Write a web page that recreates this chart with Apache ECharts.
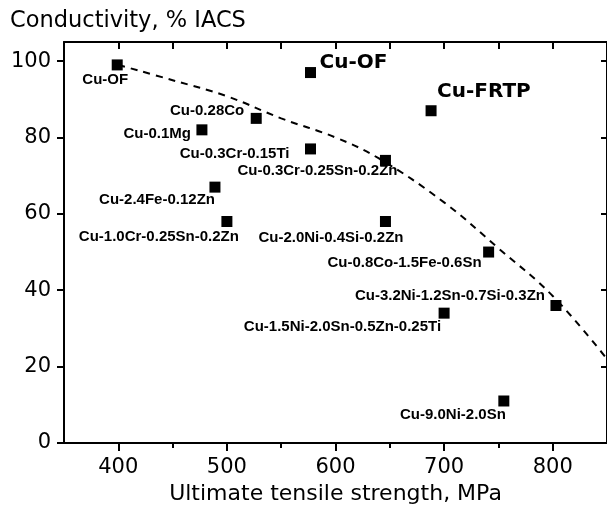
<!DOCTYPE html>
<html><head><meta charset="utf-8">
<script src="https://cdn.jsdelivr.net/npm/echarts@6/dist/echarts.min.js"></script>
<style>html,body{margin:0;padding:0;background:#fff}#c{width:607px;height:510px}</style>
</head><body><div id="c"></div>
<script>
// ---- data ----
const alloys = ['Cu-OF', 'Cu-OF', 'Cu-FRTP', 'Cu-0.28Co', 'Cu-0.1Mg', 'Cu-0.3Cr-0.15Ti',
  'Cu-2.4Fe-0.12Zn', 'Cu-1.0Cr-0.25Sn-0.2Zn', 'Cu-0.3Cr-0.25Sn-0.2Zn', 'Cu-2.0Ni-0.4Si-0.2Zn',
  'Cu-0.8Co-1.5Fe-0.6Sn', 'Cu-3.2Ni-1.2Sn-0.7Si-0.3Zn', 'Cu-1.5Ni-2.0Sn-0.5Zn-0.25Ti', 'Cu-9.0Ni-2.0Sn'];
const strength =     [399, 577, 688, 527, 477, 577, 489, 500, 646, 646, 741, 803, 700, 755];
const conductivity = [ 99,  97,  87,  85,  82,  77,  67,  58,  74,  58,  50,  36,  34,  11];
const trendStrength =     [400, 450, 500,  550, 600, 640,  700, 750,  800, 850];
const trendConductivity = [ 99,  95, 90.8, 85,  80,  74.5, 63,  51,  38.5, 22];
const xTickLabels = [400, 500, 600, 700, 800];
const xMinorTicks = [450, 550, 650, 750];
const xTopTicks = [400, 450, 500, 550, 600, 650, 700, 750, 800];
const yTickLabels = [0, 20, 40, 60, 80, 100];
const yRightTicks = [20, 40, 60, 80, 100];

// ---- label layout (styling, separate from data) ----
const labelLayout = [
  {align:'center', off:[-12, 15]},
  {align:'left', off:[9, -10], big:true},
  {align:'left', off:[6, -19], big:true},
  {align:'right', off:[-12, -8]},
  {align:'right', off:[-11, 4]},
  {align:'right', off:[-21, 5]},
  {align:'right', off:[0, 13]},
  {align:'right', off:[12, 15]},
  {align:'right', off:[12, 10]},
  {align:'right', off:[18, 16]},
  {align:'right', off:[-7, 11]},
  {align:'right', off:[-11, -10]},
  {align:'right', off:[-3, 14]},
  {align:'right', off:[2, 14]}
];

const F = 'DejaVu Sans';
const pts = alloys.map((name, i) => {
  const L = labelLayout[i];
  return {
    name: name,
    value: [strength[i], conductivity[i]],
    label: {
      show: true, formatter: name, position: 'inside',
      align: L.align, verticalAlign: 'middle', offset: L.off,
      fontFamily: L.big ? F : 'Liberation Sans', fontWeight: 'bold',
      fontSize: L.big ? 20 : 15, color: '#000', opacity: 1
    }
  };
});

const chart = echarts.init(document.getElementById('c'), null, {renderer: 'canvas'});
const axisLineStyle = {color: '#000', width: 2};
chart.setOption({
  animation: false,
  backgroundColor: '#fff',
  title: {text: 'Conductivity, % IACS', left: 10, top: 10, padding: 0,
    textStyle: {fontFamily: F, fontSize: 22.5, fontWeight: 'normal', color: '#000'}},
  grid: {left: 64, right: -2, top: 42, bottom: 66, containLabel: false},
  xAxis: [
    {type: 'value', min: 350, max: 850, position: 'bottom',
      axisLine: {show: true, onZero: false, lineStyle: axisLineStyle},
      axisTick: {show: true, customValues: xTickLabels, length: 8, lineStyle: {color: '#000', width: 2}},
      axisLabel: {show: true, customValues: xTickLabels, fontFamily: F, fontSize: 21, color: '#000', margin: 14},
      splitLine: {show: false},
      name: 'Ultimate tensile strength, MPa', nameLocation: 'middle', nameGap: 40,
      nameTextStyle: {fontFamily: F, fontSize: 22, color: '#000'}},
    {type: 'value', min: 350, max: 850, position: 'bottom',
      axisLine: {show: false, onZero: false},
      axisTick: {show: true, customValues: xMinorTicks, length: 5, lineStyle: {color: '#000', width: 2}},
      axisLabel: {show: false}, splitLine: {show: false}},
    {type: 'value', min: 350, max: 850, position: 'top',
      axisLine: {show: true, onZero: false, lineStyle: axisLineStyle},
      axisTick: {show: true, inside: true, customValues: xTopTicks, length: 7, lineStyle: {color: '#000', width: 2}},
      axisLabel: {show: false}, splitLine: {show: false}}
  ],
  yAxis: [
    {type: 'value', min: 0, max: 105, position: 'left',
      axisLine: {show: true, onZero: false, lineStyle: axisLineStyle},
      axisTick: {show: true, customValues: yTickLabels, length: 7, lineStyle: {color: '#000', width: 2}},
      axisLabel: {show: true, customValues: yTickLabels, fontFamily: F, fontSize: 21, color: '#000', margin: 13},
      splitLine: {show: false}},
    {type: 'value', min: 0, max: 105, position: 'right',
      axisLine: {show: true, onZero: false, lineStyle: axisLineStyle},
      axisTick: {show: true, inside: true, customValues: yRightTicks, length: 6, lineStyle: {color: '#000', width: 2}},
      axisLabel: {show: false}, splitLine: {show: false}}
  ],
  series: [
    {type: 'line', xAxisIndex: 0, yAxisIndex: 0, smooth: 0.4, symbol: 'none',
      data: trendStrength.map((x, i) => [x, trendConductivity[i]]),
      lineStyle: {color: '#000', width: 2, type: [7, 6], opacity: 1}, z: 2},
    {type: 'scatter', xAxisIndex: 0, yAxisIndex: 0, symbol: 'rect', symbolSize: 11,
      itemStyle: {color: '#000', opacity: 1}, data: pts, z: 3}
  ]
});
</script></body></html>
